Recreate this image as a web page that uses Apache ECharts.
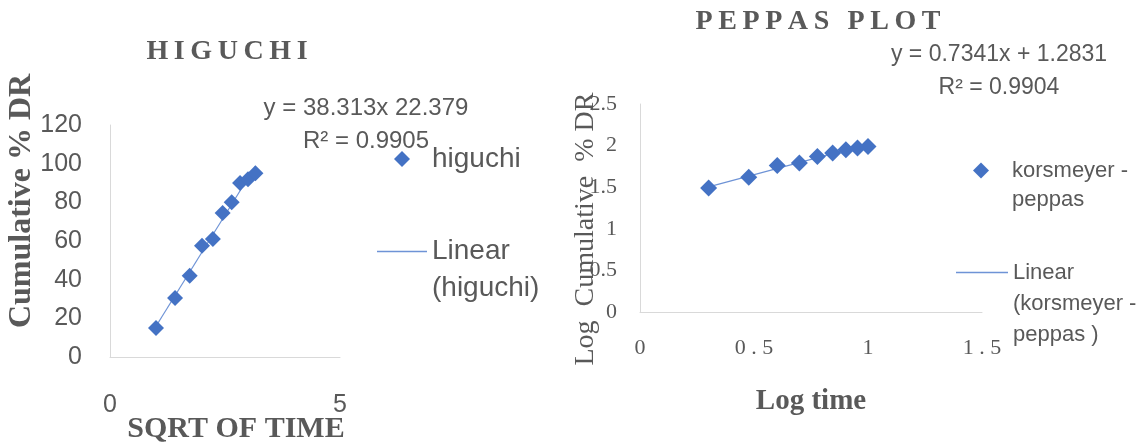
<!DOCTYPE html>
<html>
<head>
<meta charset="utf-8">
<script src="https://cdn.jsdelivr.net/npm/echarts@6/dist/echarts.min.js"></script>
<style>
html,body{margin:0;padding:0;background:#fff;}
#chart{width:1141px;height:444px;}
</style>
</head>
<body>
<div id="chart"></div>
<script>
// ---- data ----
const higuchiX = [1, 1.414, 1.732, 2, 2.236, 2.449, 2.646, 2.828, 3, 3.162];
const higuchiY = [15, 30.5, 42, 57.5, 61, 74.5, 80, 90, 92, 95];
const higuchiFit = [38.313, -22.379]; // slope, intercept
const peppasX = [0.301, 0.477, 0.602, 0.699, 0.778, 0.845, 0.903, 0.954, 1.0];
const peppasY = [1.49, 1.62, 1.76, 1.79, 1.87, 1.91, 1.95, 1.97, 1.99];
const peppasFit = [0.7341, 1.2831];
const higuchiEq = ['y = 38.313x 22.379', 'R\u00B2 = 0.9905'];
const peppasEq = ['y = 0.7341x + 1.2831', 'R\u00B2 = 0.9904'];
const titles = ['HIGUCHI', 'PEPPAS PLOT'];
const xNames = ['SQRT OF TIME', 'Log time'];
const yNames = ['Cumulative % DR', 'Log  Cumulative  % DR'];
const seriesNames = ['higuchi', 'Linear (higuchi)', 'korsmeyer - peppas', 'Linear (korsmeyer - peppas)'];
const legendLabels = ['higuchi', 'Linear\n(higuchi)', 'korsmeyer -\npeppas', 'Linear\n(korsmeyer -\npeppas )'];

function pairs(xs, ys) { return xs.map((x, i) => [x, ys[i]]); }
function fitLine(xs, fit) {
  const lo = Math.min(...xs), hi = Math.max(...xs);
  return [[lo, fit[0] * lo + fit[1]], [hi, fit[0] * hi + fit[1]]];
}
function spaced(s) { return s.split('').join('\u2009'); }
// put the icon next to the first line of a multi-line legend label
function firstLineCentered(s) { const n = s.split('\n').length; return '\n'.repeat(n - 1) + s; }

const GRAY = '#595959';
const AXIS = '#D9D9D9';
const BLUE = '#4472C4';
const TREND = '#6E93D6';
const SANS = 'Liberation Sans';
const SERIF = 'Liberation Serif';
// diamond centred in a 50x16 box (corner points only widen the bounding box)
const DIAMOND_ICON = 'path://M0,0L0,0M25,0L33,8L25,16L17,8ZM50,16L50,16';

const chart = echarts.init(document.getElementById('chart'));
chart.setOption({
  animation: false,
  backgroundColor: '#fff',
  title: [
    { text: spaced(titles[0]), left: 227, top: 38, textAlign: 'center', padding: 0,
      textStyle: { fontFamily: SERIF, fontWeight: 'bold', fontSize: 28, color: GRAY } },
    { text: spaced(titles[1]), left: 818, top: 8, textAlign: 'center', padding: 0,
      textStyle: { fontFamily: SERIF, fontWeight: 'bold', fontSize: 28, color: GRAY } }
  ],
  grid: [
    { left: 110, top: 125, width: 230, height: 232, outerBoundsMode: 'none', containLabel: false },
    { left: 640, top: 104, width: 342, height: 208, outerBoundsMode: 'none', containLabel: false }
  ],
  xAxis: [
    { gridIndex: 0, type: 'value', min: 0, max: 5, interval: 5,
      axisLine: { show: true, lineStyle: { color: AXIS } }, axisTick: { show: false }, splitLine: { show: false },
      axisLabel: { margin: 36, color: GRAY, fontFamily: SANS, fontSize: 25 },
      name: xNames[0], nameLocation: 'middle', nameGap: 57, nameMoveOverlap: false,
      nameTextStyle: { fontFamily: SERIF, fontWeight: 'bold', fontSize: 30, color: GRAY, padding: [0, 0, 0, 22] } },
    { gridIndex: 1, type: 'value', min: 0, max: 1.5, interval: 0.5,
      axisLine: { show: true, lineStyle: { color: AXIS } }, axisTick: { show: false }, splitLine: { show: false },
      axisLabel: { margin: 25, color: GRAY, fontFamily: SERIF, fontSize: 22,
        formatter: v => String(v).replace('.', ' . ') },
      name: xNames[1], nameLocation: 'middle', nameGap: 75, nameMoveOverlap: false,
      nameTextStyle: { fontFamily: SERIF, fontWeight: 'bold', fontSize: 29, color: GRAY } }
  ],
  yAxis: [
    { gridIndex: 0, type: 'value', min: 0, max: 120, interval: 20,
      axisLine: { show: true, lineStyle: { color: AXIS } }, axisTick: { show: false }, splitLine: { show: false },
      axisLabel: { margin: 28, color: GRAY, fontFamily: SANS, fontSize: 25 },
      name: yNames[0], nameLocation: 'middle', nameRotate: 90, nameGap: 72, nameMoveOverlap: false,
      nameTextStyle: { fontFamily: SERIF, fontWeight: 'bold', fontSize: 32, color: GRAY, padding: [0, 0, 0, 80] } },
    { gridIndex: 1, type: 'value', min: 0, max: 2.5, interval: 0.5,
      axisLine: { show: true, lineStyle: { color: AXIS } }, axisTick: { show: false }, splitLine: { show: false },
      axisLabel: { margin: 23, color: GRAY, fontFamily: SERIF, fontSize: 22 },
      name: yNames[1], nameLocation: 'middle', nameRotate: 90, nameGap: 40, nameMoveOverlap: false,
      nameTextStyle: { fontFamily: SERIF, fontSize: 28, color: GRAY, padding: [0, 42, 0, 0] } }
  ],
  legend: [
    { data: [{ name: seriesNames[0], icon: DIAMOND_ICON }], left: 377, top: 145, padding: 0,
      itemWidth: 50, itemHeight: 16, selectedMode: false,
      formatter: () => legendLabels[0],
      textStyle: { fontFamily: SANS, fontSize: 28, color: GRAY } },
    { data: [{ name: seriesNames[1], icon: 'rect' }], left: 377, top: 196, padding: 0,
      itemWidth: 50, itemHeight: 1.5, selectedMode: false,
      formatter: () => firstLineCentered(legendLabels[1]),
      textStyle: { fontFamily: SANS, fontSize: 28, color: GRAY, lineHeight: 37 } },
    { data: [{ name: seriesNames[2], icon: DIAMOND_ICON }], left: 956, top: 127, padding: 0,
      itemWidth: 52, itemHeight: 16, selectedMode: false,
      formatter: () => firstLineCentered(legendLabels[2]),
      textStyle: { fontFamily: SANS, fontSize: 22, color: GRAY, lineHeight: 29 } },
    { data: [{ name: seriesNames[3], icon: 'rect' }], left: 956, top: 195, padding: 0,
      itemWidth: 52, itemHeight: 1.5, selectedMode: false,
      formatter: () => firstLineCentered(legendLabels[3]),
      textStyle: { fontFamily: SANS, fontSize: 22, color: GRAY, lineHeight: 31 } }
  ],
  graphic: [
    { type: 'text', x: 366, y: 108, style: { text: higuchiEq[0], align: 'center', verticalAlign: 'middle', fill: GRAY, font: '24px "Liberation Sans"' } },
    { type: 'text', x: 366, y: 141, style: { text: higuchiEq[1], align: 'center', verticalAlign: 'middle', fill: GRAY, font: '24px "Liberation Sans"' } },
    { type: 'text', x: 999, y: 55, style: { text: peppasEq[0], align: 'center', verticalAlign: 'middle', fill: GRAY, font: '23px "Liberation Sans"' } },
    { type: 'text', x: 999, y: 88, style: { text: peppasEq[1], align: 'center', verticalAlign: 'middle', fill: GRAY, font: '23px "Liberation Sans"' } }
  ],
  series: [
    { name: seriesNames[1], type: 'line', xAxisIndex: 0, yAxisIndex: 0, data: fitLine(higuchiX, higuchiFit),
      symbol: 'none', lineStyle: { color: TREND, width: 1.2 }, itemStyle: { color: TREND }, z: 1 },
    { name: seriesNames[0], type: 'scatter', xAxisIndex: 0, yAxisIndex: 0, data: pairs(higuchiX, higuchiY),
      symbol: 'diamond', symbolSize: 16, itemStyle: { color: BLUE, opacity: 1 }, z: 2 },
    { name: seriesNames[3], type: 'line', xAxisIndex: 1, yAxisIndex: 1, data: fitLine(peppasX, peppasFit),
      symbol: 'none', lineStyle: { color: TREND, width: 1.2 }, itemStyle: { color: TREND }, z: 1 },
    { name: seriesNames[2], type: 'scatter', xAxisIndex: 1, yAxisIndex: 1, data: pairs(peppasX, peppasY),
      symbol: 'diamond', symbolSize: 17, itemStyle: { color: BLUE, opacity: 1 }, z: 2 }
  ]
});
</script>
</body>
</html>
